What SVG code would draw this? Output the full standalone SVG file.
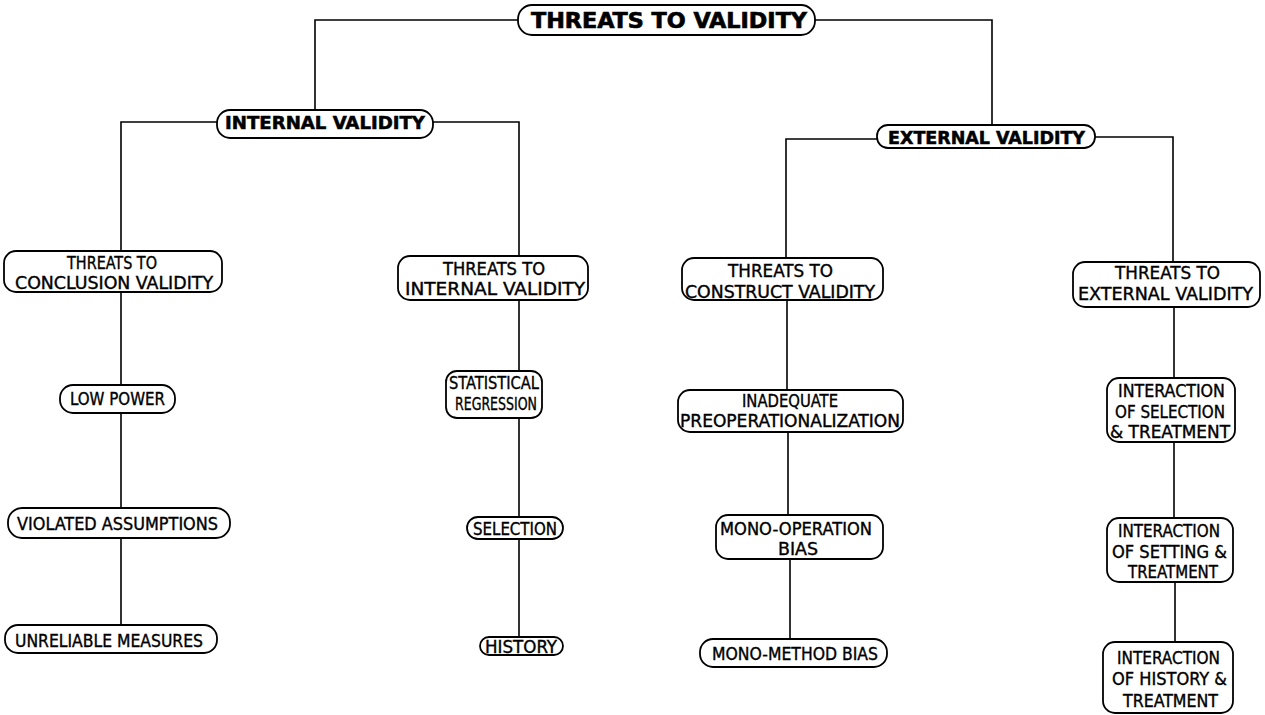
<svg xmlns="http://www.w3.org/2000/svg" width="1265" height="715" viewBox="0 0 1265 715">
  <style>
    .bg { fill: #fff; }
    .node rect { fill: #fff; stroke: #000; stroke-width: 1.8; }
    .node text { font-family: "DejaVu Sans Condensed", "DejaVu Sans", sans-serif; font-size: 17px; fill: #000; stroke: #000; stroke-width: 0.35; }
    .node text.head { font-weight: bold; font-size: 18px; stroke-width: 0.5; }
    .node text.top { font-weight: bold; font-size: 21px; stroke-width: 0.6; }
    #connectors path { fill: none; stroke: #000; stroke-width: 1.6; }
  </style>
  <rect class="bg" x="0" y="0" width="1265" height="715"/>

  <g id="connectors">
    <path d="M518,20 H315 V110"/>
    <path d="M815,20 H992 V125"/>
    <path d="M217,122 H121 V251"/>
    <path d="M433,122 H519 V256"/>
    <path d="M877,139 H786 V258"/>
    <path d="M1095,137 H1173 V262"/>
    <path d="M121,292 V385 M121,413 V508 M121,538 V625"/>
    <path d="M519,300 V371 M519,418 V517 M519,539 V637"/>
    <path d="M787,300 V390 M788,432 V515 M790,559 V639"/>
    <path d="M1174,307 V378 M1174,442 V518 M1175,582 V642"/>
  </g>

  <g id="threats-to-validity" class="node">
    <rect x="518" y="5" width="297" height="30" rx="14"/>
    <text class="top" x="531" y="28" textLength="276" lengthAdjust="spacingAndGlyphs">THREATS TO VALIDITY</text>
  </g>

  <g id="internal-validity" class="node">
    <rect x="217" y="110" width="216" height="28" rx="13"/>
    <text class="head" x="225" y="129" textLength="200" lengthAdjust="spacingAndGlyphs">INTERNAL VALIDITY</text>
  </g>

  <g id="external-validity" class="node">
    <rect x="877" y="125" width="218" height="23" rx="11"/>
    <text class="head" x="888" y="144" textLength="197" lengthAdjust="spacingAndGlyphs">EXTERNAL VALIDITY</text>
  </g>

  <g id="conclusion-validity" class="node">
    <rect x="4" y="251" width="218" height="41" rx="12"/>
    <text x="67" y="269" textLength="90" lengthAdjust="spacingAndGlyphs">THREATS TO</text>
    <text x="15" y="289" textLength="198" lengthAdjust="spacingAndGlyphs">CONCLUSION VALIDITY</text>
  </g>

  <g id="internal-threats" class="node">
    <rect x="398" y="256" width="190" height="44" rx="12"/>
    <text x="443" y="275" textLength="102" lengthAdjust="spacingAndGlyphs">THREATS TO</text>
    <text x="405" y="295" textLength="180" lengthAdjust="spacingAndGlyphs">INTERNAL VALIDITY</text>
  </g>

  <g id="construct-validity" class="node">
    <rect x="682" y="258" width="201" height="42" rx="12"/>
    <text x="728" y="277" textLength="105" lengthAdjust="spacingAndGlyphs">THREATS TO</text>
    <text x="685" y="298" textLength="190" lengthAdjust="spacingAndGlyphs">CONSTRUCT VALIDITY</text>
  </g>

  <g id="external-threats" class="node">
    <rect x="1073" y="262" width="187" height="45" rx="12"/>
    <text x="1115" y="279" textLength="105" lengthAdjust="spacingAndGlyphs">THREATS TO</text>
    <text x="1078" y="300" textLength="175" lengthAdjust="spacingAndGlyphs">EXTERNAL VALIDITY</text>
  </g>

  <g id="low-power" class="node">
    <rect x="60" y="385" width="115" height="28" rx="13"/>
    <text x="70" y="405" textLength="95" lengthAdjust="spacingAndGlyphs">LOW POWER</text>
  </g>

  <g id="violated-assumptions" class="node">
    <rect x="8" y="508" width="222" height="30" rx="14"/>
    <text x="17" y="530" textLength="201" lengthAdjust="spacingAndGlyphs">VIOLATED ASSUMPTIONS</text>
  </g>

  <g id="unreliable-measures" class="node">
    <rect x="5" y="625" width="212" height="28" rx="13"/>
    <text x="15" y="647" textLength="188" lengthAdjust="spacingAndGlyphs">UNRELIABLE MEASURES</text>
  </g>

  <g id="statistical-regression" class="node">
    <rect x="446" y="371" width="96" height="47" rx="11"/>
    <text x="449" y="389" textLength="90" lengthAdjust="spacingAndGlyphs">STATISTICAL</text>
    <text x="455" y="410" textLength="82" lengthAdjust="spacingAndGlyphs">REGRESSION</text>
  </g>

  <g id="selection" class="node">
    <rect x="467" y="517" width="96" height="22" rx="11"/>
    <text x="473" y="535" textLength="84" lengthAdjust="spacingAndGlyphs">SELECTION</text>
  </g>

  <g id="history" class="node">
    <rect x="480" y="637" width="83" height="18" rx="9"/>
    <text x="485" y="653" textLength="72" lengthAdjust="spacingAndGlyphs">HISTORY</text>
  </g>

  <g id="inadequate-preoperationalization" class="node">
    <rect x="678" y="390" width="225" height="42" rx="12"/>
    <text x="742" y="407" textLength="96" lengthAdjust="spacingAndGlyphs">INADEQUATE</text>
    <text x="680" y="427" textLength="220" lengthAdjust="spacingAndGlyphs">PREOPERATIONALIZATION</text>
  </g>

  <g id="mono-operation-bias" class="node">
    <rect x="716" y="515" width="167" height="44" rx="12"/>
    <text x="720" y="535" textLength="152" lengthAdjust="spacingAndGlyphs">MONO-OPERATION</text>
    <text x="778" y="555" textLength="40" lengthAdjust="spacingAndGlyphs">BIAS</text>
  </g>

  <g id="mono-method-bias" class="node">
    <rect x="700" y="639" width="187" height="28" rx="13"/>
    <text x="712" y="660" textLength="166" lengthAdjust="spacingAndGlyphs">MONO-METHOD BIAS</text>
  </g>

  <g id="selection-treatment" class="node">
    <rect x="1107" y="378" width="128" height="64" rx="12"/>
    <text x="1118" y="397" textLength="107" lengthAdjust="spacingAndGlyphs">INTERACTION</text>
    <text x="1115" y="418" textLength="110" lengthAdjust="spacingAndGlyphs">OF SELECTION</text>
    <text x="1110" y="438" textLength="120" lengthAdjust="spacingAndGlyphs">&amp; TREATMENT</text>
  </g>

  <g id="setting-treatment" class="node">
    <rect x="1107" y="518" width="126" height="64" rx="12"/>
    <text x="1118" y="537" textLength="102" lengthAdjust="spacingAndGlyphs">INTERACTION</text>
    <text x="1112" y="558" textLength="115" lengthAdjust="spacingAndGlyphs">OF SETTING &amp;</text>
    <text x="1128" y="578" textLength="90" lengthAdjust="spacingAndGlyphs">TREATMENT</text>
  </g>

  <g id="history-treatment" class="node">
    <rect x="1103" y="642" width="130" height="71" rx="12"/>
    <text x="1117" y="664" textLength="103" lengthAdjust="spacingAndGlyphs">INTERACTION</text>
    <text x="1112" y="685" textLength="115" lengthAdjust="spacingAndGlyphs">OF HISTORY &amp;</text>
    <text x="1123" y="707" textLength="95" lengthAdjust="spacingAndGlyphs">TREATMENT</text>
  </g>
</svg>
